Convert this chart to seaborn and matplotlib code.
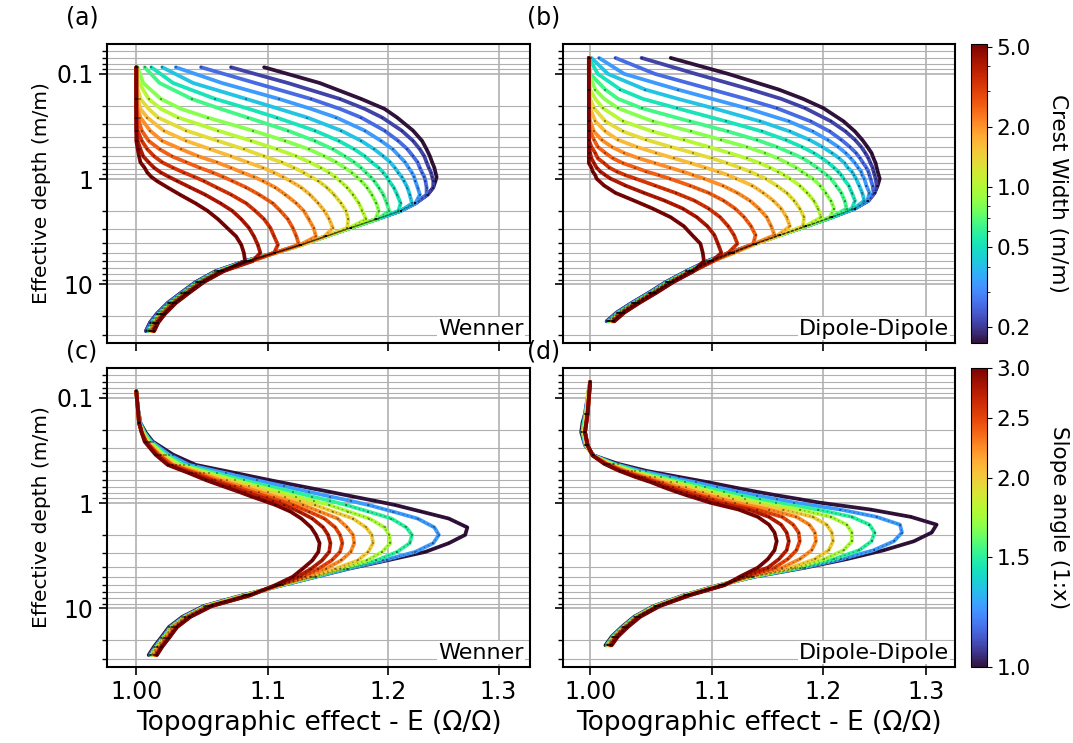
import numpy as np
import pandas as pd
import seaborn as sns
import matplotlib.pyplot as plt
from matplotlib.colors import LogNorm
from matplotlib.cm import ScalarMappable
from matplotlib.ticker import FixedLocator, FixedFormatter, NullFormatter, NullLocator, LogLocator

sns.set_style("ticks")
plt.rcParams["font.family"] = ["DejaVu Sans"]
for key in ("text.color", "axes.labelcolor", "xtick.color", "ytick.color", "axes.edgecolor"):
    plt.rcParams[key] = "black"

# ridge crest widths (m/m) and slope angles (1:x)
crest_width = [0.2, 0.25, 0.3, 0.38, 0.47, 0.58, 0.72, 0.9, 1.1, 1.4, 1.7, 2.1, 2.6, 3.3, 4.0, 5.0]
slope_angle = [1.0, 1.25, 1.5, 1.75, 2.0, 2.25, 2.5, 2.75, 3.0]

# effective depths (m/m) of the two arrays
depth_wenner = [0.0865, 0.122, 0.173, 0.215, 0.26, 0.346, 0.433, 0.519, 0.606, 0.692, 0.779, 0.865,
                0.952, 1.04, 1.2, 1.4, 1.7, 2.0, 2.4, 2.9, 3.5, 4.2,
                5.0, 6.0, 7.5, 9.5, 12, 15, 19, 23, 27.7]
depth_dipole = [0.0705, 0.1, 0.141, 0.1725, 0.2115, 0.282, 0.3525, 0.423, 0.4935, 0.564, 0.6345, 0.705,
                0.7755, 0.846, 0.9165, 0.987, 1.15, 1.35, 1.6, 1.9, 2.3, 2.8,
                3.4, 4.1, 5.0, 6.0, 7.5, 9.5, 12, 15, 18.5, 22.4]
# depths read between the electrode-spacing samples (no sample marker there)
between_wenner = [0.122, 0.215]
between_dipole = [0.1, 0.1725]

# topographic effect E, one row per crest width - Wenner
wenner_crest = [
    [1.097, 1.142, 1.177, 1.197, 1.208, 1.222, 1.230, 1.234, 1.237, 1.239, 1.241, 1.242, 1.243, 1.242, 1.240, 1.235, 1.224, 1.211, 1.190, 1.168, 1.147, 1.127, 1.106, 1.082, 1.059, 1.044, 1.033, 1.023, 1.015, 1.010, 1.007],
    [1.071, 1.116, 1.159, 1.180, 1.195, 1.212, 1.222, 1.228, 1.232, 1.234, 1.236, 1.238, 1.239, 1.240, 1.240, 1.235, 1.224, 1.211, 1.190, 1.168, 1.147, 1.127, 1.106, 1.082, 1.059, 1.044, 1.033, 1.023, 1.015, 1.010, 1.007],
    [1.048, 1.090, 1.135, 1.159, 1.177, 1.197, 1.209, 1.217, 1.222, 1.226, 1.228, 1.230, 1.232, 1.233, 1.234, 1.234, 1.224, 1.211, 1.190, 1.168, 1.147, 1.127, 1.106, 1.083, 1.060, 1.045, 1.034, 1.024, 1.016, 1.011, 1.008],
    [1.029, 1.064, 1.109, 1.135, 1.156, 1.180, 1.194, 1.204, 1.210, 1.215, 1.218, 1.221, 1.223, 1.224, 1.226, 1.228, 1.224, 1.211, 1.190, 1.168, 1.147, 1.127, 1.106, 1.083, 1.060, 1.045, 1.034, 1.024, 1.016, 1.011, 1.008],
    [1.019, 1.042, 1.083, 1.109, 1.132, 1.160, 1.177, 1.188, 1.196, 1.202, 1.206, 1.209, 1.212, 1.214, 1.217, 1.219, 1.221, 1.211, 1.190, 1.168, 1.147, 1.127, 1.106, 1.084, 1.061, 1.046, 1.035, 1.025, 1.017, 1.012, 1.009],
    [1.011, 1.027, 1.059, 1.085, 1.107, 1.138, 1.158, 1.171, 1.180, 1.186, 1.192, 1.196, 1.199, 1.201, 1.205, 1.208, 1.211, 1.209, 1.190, 1.168, 1.147, 1.127, 1.106, 1.084, 1.061, 1.046, 1.035, 1.025, 1.017, 1.012, 1.009],
    [1.006, 1.017, 1.041, 1.063, 1.084, 1.116, 1.138, 1.153, 1.163, 1.171, 1.177, 1.181, 1.185, 1.188, 1.192, 1.196, 1.199, 1.201, 1.191, 1.168, 1.147, 1.127, 1.106, 1.084, 1.061, 1.046, 1.035, 1.025, 1.017, 1.012, 1.009],
    [1.001, 1.005, 1.018, 1.033, 1.053, 1.088, 1.114, 1.133, 1.146, 1.156, 1.163, 1.169, 1.173, 1.177, 1.182, 1.186, 1.190, 1.192, 1.189, 1.168, 1.147, 1.127, 1.106, 1.085, 1.062, 1.047, 1.036, 1.026, 1.018, 1.013, 1.010],
    [1.000, 1.002, 1.009, 1.018, 1.031, 1.061, 1.087, 1.107, 1.123, 1.134, 1.143, 1.150, 1.155, 1.159, 1.165, 1.170, 1.175, 1.178, 1.181, 1.167, 1.147, 1.127, 1.106, 1.085, 1.062, 1.047, 1.036, 1.026, 1.018, 1.013, 1.010],
    [1.000, 1.000, 1.003, 1.009, 1.016, 1.037, 1.061, 1.081, 1.097, 1.111, 1.121, 1.129, 1.135, 1.141, 1.148, 1.154, 1.160, 1.164, 1.166, 1.165, 1.147, 1.127, 1.106, 1.086, 1.063, 1.048, 1.037, 1.027, 1.019, 1.014, 1.011],
    [1.000, 1.000, 1.001, 1.003, 1.008, 1.020, 1.037, 1.055, 1.071, 1.084, 1.096, 1.105, 1.112, 1.118, 1.127, 1.134, 1.141, 1.146, 1.150, 1.153, 1.146, 1.127, 1.106, 1.086, 1.063, 1.048, 1.037, 1.027, 1.019, 1.014, 1.011],
    [1.000, 1.000, 1.000, 1.001, 1.003, 1.010, 1.019, 1.033, 1.046, 1.060, 1.071, 1.080, 1.089, 1.096, 1.106, 1.114, 1.123, 1.129, 1.133, 1.137, 1.139, 1.126, 1.106, 1.086, 1.063, 1.048, 1.037, 1.027, 1.019, 1.014, 1.011],
    [1.000, 1.000, 1.000, 1.000, 1.001, 1.004, 1.009, 1.017, 1.026, 1.037, 1.047, 1.057, 1.065, 1.072, 1.083, 1.093, 1.104, 1.110, 1.116, 1.120, 1.123, 1.125, 1.106, 1.087, 1.064, 1.049, 1.038, 1.028, 1.020, 1.015, 1.012],
    [1.000, 1.000, 1.000, 1.000, 1.000, 1.001, 1.004, 1.008, 1.013, 1.019, 1.027, 1.035, 1.043, 1.050, 1.060, 1.071, 1.083, 1.090, 1.097, 1.102, 1.105, 1.108, 1.105, 1.087, 1.064, 1.049, 1.038, 1.028, 1.020, 1.015, 1.012],
    [1.000, 1.000, 1.000, 1.000, 1.000, 1.000, 1.001, 1.003, 1.005, 1.009, 1.013, 1.018, 1.024, 1.030, 1.040, 1.051, 1.063, 1.072, 1.079, 1.085, 1.089, 1.092, 1.094, 1.088, 1.065, 1.050, 1.039, 1.029, 1.021, 1.016, 1.013],
    [1.000, 1.000, 1.000, 1.000, 1.000, 1.000, 1.000, 1.001, 1.002, 1.003, 1.006, 1.008, 1.011, 1.015, 1.023, 1.032, 1.044, 1.053, 1.061, 1.068, 1.075, 1.079, 1.081, 1.082, 1.065, 1.050, 1.039, 1.029, 1.021, 1.016, 1.013],
]

# topographic effect E, one row per crest width - Dipole-Dipole
dipole_crest = [
    [1.065, 1.114, 1.159, 1.181, 1.200, 1.219, 1.230, 1.237, 1.242, 1.246, 1.248, 1.250, 1.251, 1.252, 1.253, 1.254, 1.252, 1.249, 1.243, 1.230, 1.208, 1.184, 1.160, 1.138, 1.115, 1.096, 1.078, 1.061, 1.047, 1.033, 1.021, 1.013],
    [1.041, 1.086, 1.134, 1.161, 1.183, 1.207, 1.221, 1.230, 1.236, 1.240, 1.243, 1.245, 1.247, 1.248, 1.249, 1.250, 1.251, 1.249, 1.243, 1.230, 1.208, 1.184, 1.160, 1.138, 1.115, 1.096, 1.078, 1.061, 1.047, 1.033, 1.021, 1.013],
    [1.020, 1.052, 1.100, 1.129, 1.157, 1.188, 1.206, 1.217, 1.225, 1.231, 1.235, 1.238, 1.241, 1.243, 1.244, 1.245, 1.247, 1.248, 1.243, 1.230, 1.208, 1.184, 1.160, 1.138, 1.116, 1.097, 1.079, 1.062, 1.048, 1.034, 1.022, 1.014],
    [1.007, 1.027, 1.071, 1.100, 1.130, 1.168, 1.190, 1.204, 1.214, 1.221, 1.226, 1.230, 1.233, 1.236, 1.237, 1.239, 1.241, 1.244, 1.242, 1.230, 1.208, 1.184, 1.160, 1.138, 1.116, 1.097, 1.079, 1.062, 1.048, 1.034, 1.022, 1.014],
    [1.001, 1.014, 1.044, 1.071, 1.101, 1.142, 1.169, 1.187, 1.199, 1.208, 1.215, 1.220, 1.223, 1.227, 1.229, 1.231, 1.234, 1.237, 1.239, 1.229, 1.208, 1.184, 1.160, 1.138, 1.117, 1.098, 1.080, 1.063, 1.049, 1.035, 1.023, 1.015],
    [0.999, 1.006, 1.024, 1.042, 1.070, 1.112, 1.144, 1.165, 1.180, 1.191, 1.199, 1.205, 1.210, 1.214, 1.217, 1.219, 1.224, 1.227, 1.230, 1.227, 1.208, 1.184, 1.160, 1.138, 1.117, 1.098, 1.080, 1.063, 1.049, 1.035, 1.023, 1.015],
    [0.999, 1.000, 1.012, 1.022, 1.041, 1.081, 1.114, 1.139, 1.157, 1.170, 1.181, 1.188, 1.194, 1.199, 1.203, 1.207, 1.212, 1.217, 1.220, 1.222, 1.207, 1.184, 1.160, 1.138, 1.117, 1.098, 1.080, 1.063, 1.049, 1.035, 1.023, 1.015],
    [0.999, 0.999, 1.004, 1.011, 1.022, 1.050, 1.082, 1.108, 1.130, 1.146, 1.158, 1.167, 1.175, 1.180, 1.185, 1.190, 1.197, 1.202, 1.207, 1.210, 1.206, 1.184, 1.160, 1.138, 1.118, 1.099, 1.081, 1.064, 1.050, 1.036, 1.024, 1.016],
    [0.999, 0.999, 1.000, 1.004, 1.010, 1.026, 1.050, 1.076, 1.097, 1.115, 1.130, 1.142, 1.151, 1.158, 1.164, 1.169, 1.178, 1.185, 1.191, 1.195, 1.198, 1.183, 1.160, 1.138, 1.118, 1.099, 1.081, 1.064, 1.050, 1.036, 1.024, 1.016],
    [0.999, 0.999, 0.999, 1.000, 1.003, 1.012, 1.026, 1.045, 1.065, 1.084, 1.100, 1.113, 1.124, 1.133, 1.140, 1.147, 1.157, 1.166, 1.173, 1.178, 1.182, 1.181, 1.160, 1.138, 1.119, 1.100, 1.082, 1.065, 1.051, 1.037, 1.025, 1.017],
    [0.999, 0.999, 0.999, 0.999, 1.000, 1.004, 1.012, 1.022, 1.037, 1.053, 1.068, 1.082, 1.094, 1.105, 1.114, 1.121, 1.135, 1.145, 1.154, 1.161, 1.166, 1.169, 1.158, 1.138, 1.119, 1.100, 1.082, 1.065, 1.051, 1.037, 1.025, 1.017],
    [0.999, 0.999, 0.999, 0.999, 0.999, 1.000, 1.003, 1.009, 1.017, 1.027, 1.039, 1.052, 1.064, 1.075, 1.084, 1.093, 1.109, 1.122, 1.133, 1.141, 1.148, 1.152, 1.155, 1.137, 1.119, 1.100, 1.082, 1.065, 1.051, 1.037, 1.025, 1.017],
    [0.999, 0.999, 0.999, 0.999, 0.999, 0.999, 1.000, 1.003, 1.006, 1.012, 1.018, 1.026, 1.036, 1.045, 1.055, 1.064, 1.081, 1.097, 1.110, 1.120, 1.128, 1.134, 1.138, 1.136, 1.117, 1.101, 1.083, 1.066, 1.052, 1.038, 1.026, 1.018],
    [0.999, 0.999, 0.999, 0.999, 0.999, 0.999, 0.999, 0.999, 1.001, 1.004, 1.006, 1.011, 1.015, 1.021, 1.028, 1.036, 1.052, 1.069, 1.085, 1.097, 1.107, 1.114, 1.119, 1.122, 1.114, 1.101, 1.083, 1.066, 1.052, 1.038, 1.026, 1.018],
    [0.999, 0.999, 0.999, 0.999, 0.999, 0.999, 0.999, 0.999, 0.999, 1.000, 1.001, 1.003, 1.005, 1.008, 1.012, 1.016, 1.028, 1.043, 1.060, 1.075, 1.087, 1.096, 1.102, 1.105, 1.108, 1.100, 1.084, 1.067, 1.053, 1.039, 1.027, 1.019],
    [0.999, 0.999, 0.999, 0.999, 0.999, 0.999, 0.999, 0.999, 0.999, 0.999, 0.999, 0.999, 1.001, 1.002, 1.004, 1.005, 1.011, 1.020, 1.035, 1.050, 1.065, 1.076, 1.083, 1.090, 1.092, 1.093, 1.084, 1.067, 1.053, 1.039, 1.027, 1.019],
]

# topographic effect E, one row per slope angle - Wenner
wenner_slope = [
    [1.000, 1.001, 1.003, 1.007, 1.012, 1.027, 1.044, 1.075, 1.102, 1.127, 1.150, 1.170, 1.189, 1.206, 1.229, 1.254, 1.271, 1.269, 1.254, 1.233, 1.199, 1.166, 1.139, 1.112, 1.080, 1.050, 1.034, 1.024, 1.018, 1.013, 1.009],
    [1.000, 1.001, 1.003, 1.006, 1.011, 1.024, 1.039, 1.067, 1.091, 1.113, 1.133, 1.151, 1.168, 1.183, 1.204, 1.226, 1.241, 1.245, 1.240, 1.224, 1.196, 1.165, 1.139, 1.112, 1.081, 1.051, 1.035, 1.025, 1.019, 1.014, 1.010],
    [1.000, 1.001, 1.002, 1.006, 1.010, 1.022, 1.035, 1.060, 1.081, 1.101, 1.120, 1.136, 1.151, 1.164, 1.183, 1.203, 1.216, 1.221, 1.219, 1.208, 1.190, 1.162, 1.137, 1.111, 1.082, 1.052, 1.036, 1.026, 1.020, 1.015, 1.011],
    [1.000, 1.001, 1.002, 1.005, 1.009, 1.020, 1.032, 1.054, 1.074, 1.092, 1.109, 1.123, 1.137, 1.150, 1.166, 1.184, 1.197, 1.201, 1.202, 1.195, 1.182, 1.159, 1.136, 1.110, 1.082, 1.052, 1.036, 1.026, 1.020, 1.015, 1.011],
    [1.000, 1.001, 1.002, 1.005, 1.008, 1.018, 1.029, 1.050, 1.068, 1.085, 1.100, 1.114, 1.126, 1.138, 1.153, 1.170, 1.181, 1.186, 1.187, 1.183, 1.174, 1.155, 1.134, 1.110, 1.083, 1.053, 1.037, 1.027, 1.021, 1.016, 1.012],
    [1.000, 1.001, 1.002, 1.004, 1.007, 1.017, 1.027, 1.047, 1.063, 1.079, 1.093, 1.105, 1.117, 1.128, 1.142, 1.157, 1.165, 1.170, 1.171, 1.168, 1.160, 1.147, 1.130, 1.109, 1.084, 1.054, 1.038, 1.028, 1.022, 1.017, 1.013],
    [1.000, 1.001, 1.002, 1.004, 1.007, 1.016, 1.026, 1.044, 1.059, 1.074, 1.087, 1.099, 1.110, 1.120, 1.133, 1.146, 1.155, 1.159, 1.161, 1.159, 1.152, 1.141, 1.127, 1.108, 1.085, 1.055, 1.039, 1.029, 1.023, 1.018, 1.014],
    [1.000, 1.001, 1.002, 1.004, 1.007, 1.015, 1.024, 1.041, 1.056, 1.070, 1.082, 1.093, 1.104, 1.113, 1.125, 1.136, 1.145, 1.149, 1.151, 1.150, 1.144, 1.135, 1.124, 1.107, 1.086, 1.056, 1.040, 1.030, 1.024, 1.019, 1.015],
    [1.000, 1.001, 1.002, 1.004, 1.006, 1.014, 1.023, 1.039, 1.052, 1.065, 1.077, 1.087, 1.097, 1.106, 1.118, 1.127, 1.135, 1.139, 1.142, 1.141, 1.136, 1.128, 1.120, 1.106, 1.086, 1.056, 1.040, 1.030, 1.024, 1.019, 1.015],
]

# topographic effect E, one row per slope angle - Dipole-Dipole
dipole_slope = [
    [1.000, 0.998, 0.996, 0.994, 0.993, 0.996, 1.003, 1.022, 1.045, 1.072, 1.097, 1.118, 1.138, 1.158, 1.178, 1.196, 1.245, 1.285, 1.311, 1.306, 1.288, 1.258, 1.222, 1.183, 1.137, 1.106, 1.076, 1.051, 1.035, 1.025, 1.017, 1.012],
    [1.000, 0.998, 0.996, 0.995, 0.994, 0.996, 1.003, 1.019, 1.040, 1.064, 1.086, 1.104, 1.122, 1.139, 1.157, 1.173, 1.216, 1.251, 1.274, 1.276, 1.268, 1.248, 1.217, 1.181, 1.136, 1.107, 1.077, 1.052, 1.036, 1.026, 1.018, 1.013],
    [1.000, 0.998, 0.997, 0.995, 0.994, 0.997, 1.002, 1.018, 1.036, 1.057, 1.077, 1.094, 1.110, 1.126, 1.142, 1.156, 1.195, 1.227, 1.244, 1.249, 1.246, 1.234, 1.210, 1.178, 1.135, 1.107, 1.077, 1.052, 1.036, 1.026, 1.018, 1.013],
    [1.000, 0.998, 0.997, 0.996, 0.995, 0.997, 1.002, 1.016, 1.033, 1.052, 1.070, 1.086, 1.100, 1.115, 1.129, 1.142, 1.178, 1.207, 1.222, 1.227, 1.227, 1.219, 1.201, 1.174, 1.134, 1.108, 1.078, 1.053, 1.037, 1.027, 1.019, 1.014],
    [1.000, 0.998, 0.997, 0.996, 0.995, 0.997, 1.002, 1.015, 1.030, 1.048, 1.065, 1.078, 1.092, 1.105, 1.118, 1.130, 1.163, 1.190, 1.203, 1.208, 1.209, 1.205, 1.192, 1.170, 1.132, 1.108, 1.078, 1.053, 1.037, 1.027, 1.019, 1.014],
    [1.000, 0.999, 0.998, 0.997, 0.996, 0.998, 1.002, 1.013, 1.028, 1.044, 1.059, 1.072, 1.085, 1.097, 1.109, 1.120, 1.150, 1.175, 1.187, 1.192, 1.193, 1.189, 1.178, 1.162, 1.130, 1.109, 1.079, 1.054, 1.038, 1.028, 1.020, 1.015],
    [1.000, 0.999, 0.998, 0.997, 0.996, 0.998, 1.002, 1.013, 1.026, 1.041, 1.055, 1.067, 1.079, 1.090, 1.101, 1.112, 1.139, 1.162, 1.172, 1.177, 1.178, 1.175, 1.167, 1.155, 1.128, 1.110, 1.080, 1.055, 1.039, 1.029, 1.021, 1.016],
    [1.000, 0.999, 0.998, 0.997, 0.996, 0.998, 1.002, 1.012, 1.024, 1.039, 1.052, 1.063, 1.074, 1.085, 1.096, 1.105, 1.132, 1.150, 1.161, 1.166, 1.168, 1.166, 1.159, 1.149, 1.126, 1.110, 1.080, 1.055, 1.039, 1.029, 1.021, 1.016],
    [1.000, 0.999, 0.998, 0.997, 0.996, 0.998, 1.002, 1.011, 1.023, 1.036, 1.049, 1.059, 1.069, 1.079, 1.089, 1.098, 1.123, 1.140, 1.150, 1.155, 1.157, 1.155, 1.149, 1.140, 1.124, 1.111, 1.081, 1.056, 1.040, 1.030, 1.022, 1.017],
]

# colour scales: curves span the value range, the crest-width bar is a bit wider
width_norm = LogNorm(vmin=0.2, vmax=5.0)
width_bar_norm = LogNorm(vmin=0.166, vmax=5.17)
slope_norm = LogNorm(vmin=1.0, vmax=3.0)


def draw_panel(ax, depths, curves, values, norm, between, array_name):
    df = pd.DataFrame({
        "E": np.concatenate(curves),
        "depth": np.tile(depths, len(curves)),
        "value": np.repeat(values, len(depths)),
    })
    sns.lineplot(data=df, x="E", y="depth", hue="value", palette="turbo",
                 hue_norm=norm, sort=False, estimator=None, lw=2.7,
                 legend=False, ax=ax)
    # sample points
    samples = df[~df["depth"].isin(between)]
    sns.scatterplot(data=samples, x="E", y="depth", color="k", s=4, marker="s",
                    alpha=0.35, linewidth=0, legend=False, ax=ax, zorder=3)
    deep = df[df["depth"] >= 1.0]
    for _, g in deep.groupby("value"):
        ax.plot(g["E"], g["depth"], color="k", ls=(0, (1, 2.2)), lw=1.0, alpha=0.3)

    ax.set_xscale("log")
    ax.set_yscale("log")
    ax.set_xlim(0.979, 1.33)
    ax.set_ylim(36, 0.052)
    ax.xaxis.set_major_locator(FixedLocator([1.0, 1.1, 1.2, 1.3]))
    ax.xaxis.set_major_formatter(FixedFormatter(["1.00", "1.1", "1.2", "1.3"]))
    ax.xaxis.set_minor_locator(NullLocator())
    ax.yaxis.set_major_locator(FixedLocator([0.1, 1, 10]))
    ax.yaxis.set_major_formatter(FixedFormatter(["0.1", "1", "10"]))
    ax.yaxis.set_minor_locator(LogLocator(subs=np.arange(2, 10)))
    ax.yaxis.set_minor_formatter(NullFormatter())
    ax.set_axisbelow(True)
    ax.grid(True, which="major", color="#b0b0b0", lw=1.2)
    ax.grid(True, which="minor", axis="y", color="#b0b0b0", lw=0.8)
    ax.tick_params(which="major", labelsize=17, length=6, width=1.2)
    ax.tick_params(which="minor", length=3.5, width=1.0)
    for s in ax.spines.values():
        s.set_linewidth(1.5)
    ax.set_xlabel("")
    ax.set_ylabel("")
    ax.text(0.985, 0.015, array_name, transform=ax.transAxes, ha="right", va="bottom",
            fontsize=16, bbox=dict(fc="white", ec="none", pad=1.0), zorder=5)


fig = plt.figure(figsize=(10.73, 7.43), dpi=100)
W, H = 1073, 743


def box(left, top, right, bottom):
    return [left / W, 1 - bottom / H, (right - left) / W, (bottom - top) / H]


ax_a = fig.add_axes(box(107, 44, 530, 343))
ax_b = fig.add_axes(box(563, 44, 955, 343))
ax_c = fig.add_axes(box(107, 368, 530, 667))
ax_d = fig.add_axes(box(563, 368, 955, 667))
cax_w = fig.add_axes(box(971, 44, 987, 343))
cax_s = fig.add_axes(box(971, 368, 987, 667))

draw_panel(ax_a, depth_wenner, wenner_crest, crest_width, width_norm, between_wenner, "Wenner")
draw_panel(ax_b, depth_dipole, dipole_crest, crest_width, width_norm, between_dipole, "Dipole-Dipole")
draw_panel(ax_c, depth_wenner, wenner_slope, slope_angle, slope_norm, between_wenner, "Wenner")
draw_panel(ax_d, depth_dipole, dipole_slope, slope_angle, slope_norm, between_dipole, "Dipole-Dipole")

for ax in (ax_a, ax_b):
    ax.tick_params(labelbottom=False)
for ax in (ax_b, ax_d):
    ax.tick_params(labelleft=False)
for ax in (ax_a, ax_c):
    ax.set_ylabel("Effective depth (m/m)", fontsize=14.5)
for ax in (ax_c, ax_d):
    ax.set_xlabel("Topographic effect - E (\u03a9/\u03a9)", fontsize=19)

cb_w = fig.colorbar(ScalarMappable(norm=width_bar_norm, cmap="turbo"), cax=cax_w)
cb_w.set_ticks([0.2, 0.5, 1.0, 2.0, 5.0])
cb_w.set_ticklabels(["0.2", "0.5", "1.0", "2.0", "5.0"])
cb_w.ax.yaxis.set_minor_formatter(NullFormatter())
cb_w.ax.tick_params(labelsize=15.5)
cb_w.set_label("Crest Width (m/m)", rotation=270, fontsize=15.5, labelpad=27)

cb_s = fig.colorbar(ScalarMappable(norm=slope_norm, cmap="turbo"), cax=cax_s)
cb_s.set_ticks([1.0, 1.5, 2.0, 2.5, 3.0])
cb_s.set_ticklabels(["1.0", "1.5", "2.0", "2.5", "3.0"])
cb_s.ax.yaxis.set_minor_locator(NullLocator())
cb_s.ax.tick_params(labelsize=15.5)
cb_s.set_label("Slope angle (1:x)", rotation=270, fontsize=15.5, labelpad=27)

for label, x, y in (("(a)", 66, 5), ("(b)", 527, 5), ("(c)", 66, 339), ("(d)", 527, 339)):
    fig.text(x / W, 1 - y / H, label, ha="left", va="top", fontsize=17)

fig.savefig("out.png", dpi=100)
